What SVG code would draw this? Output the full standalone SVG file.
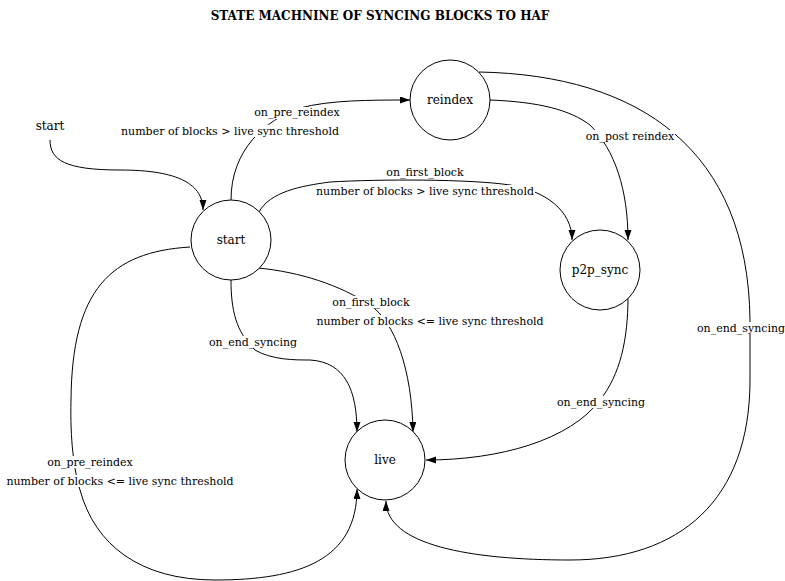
<svg xmlns="http://www.w3.org/2000/svg" width="785" height="581" viewBox="0 0 785 581">
<defs>
<marker id="arr" markerUnits="userSpaceOnUse" markerWidth="10" markerHeight="8" refX="10" refY="3.5" orient="auto"><path d="M0,0 L10,3.5 L0,7 z" fill="#000"/></marker>
<style>
.edge{fill:none;stroke:#000;stroke-width:1;marker-end:url(#arr)}
.node{fill:#fff;stroke:#000;stroke-width:1}
.nl{font-family:"DejaVu Serif",serif;font-size:12px;text-anchor:middle;fill:#000}
.el{font-family:"DejaVu Serif",serif;font-size:11px;text-anchor:middle;fill:#000}
.bg{fill:#fff}
.title{font-family:"DejaVu Serif",serif;font-size:12px;font-weight:bold;text-anchor:middle;fill:#000}
</style>
</defs>
<rect width="785" height="581" fill="#fff"/>
<text class="title" x="380" y="20">STATE MACHNINE OF SYNCING BLOCKS TO HAF</text>
<g id="connectors">
<path class="edge" d="M50,140 C50,160 65,170 120,170 C180,170 203,185 203,210"/>
<path class="edge" d="M231,200 C231,150 265,120 300,108 C330,100 370,100 410,100"/>
<path class="edge" d="M259,212 C270,192 300,186 330,182 C380,179 470,179 510,185 C545,191 572,210 572,240"/>
<path class="edge" d="M258,268 C300,272 340,285 370,305 C395,322 412,370 413,432"/>
<path class="edge" d="M231,280 C231,310 236,332 255,350 C272,360 295,360 310,360 C345,362 357,390 357,432"/>
<path class="edge" d="M190,247 C110,252 72,290 71,400 C70,440 74,470 80,490 C95,545 140,580 215,580 C300,580 357,560 357,489"/>
<path class="edge" d="M490,100 C540,102 570,110 590,125 C615,150 628,190 628,240"/>
<path class="edge" d="M479,72 C640,75 748,150 750,320 L750,380 C750,500 680,560 570,560 C470,560 386,545 386,501"/>
<path class="edge" d="M628,297 C628,340 620,375 600,400 C570,440 500,460 426,460"/>
<g id="labels">
<rect class="bg" x="254" y="107" width="87" height="12"/><text class="el" x="297" y="116">on_pre_reindex</text>
<rect class="bg" x="121" y="125" width="219" height="12"/><text class="el" x="230" y="135">number of blocks &gt; live sync threshold</text>
<rect class="bg" x="386" y="166" width="79" height="12"/><text class="el" x="425" y="176">on_first_block</text>
<rect class="bg" x="316" y="185" width="219" height="12"/><text class="el" x="425" y="195">number of blocks &gt; live sync threshold</text>
<rect class="bg" x="332" y="296" width="79" height="12"/><text class="el" x="371" y="306">on_first_block</text>
<rect class="bg" x="316" y="315" width="229" height="12"/><text class="el" x="430" y="325">number of blocks &lt;= live sync threshold</text>
<rect class="bg" x="209" y="336" width="89" height="12"/><text class="el" x="253" y="346">on_end_syncing</text>
<rect class="bg" x="47" y="456" width="87" height="12"/><text class="el" x="90" y="466">on_pre_reindex</text>
<rect class="bg" x="6" y="475" width="229" height="12"/><text class="el" x="120" y="485">number of blocks &lt;= live sync threshold</text>
<rect class="bg" x="586" y="130" width="89" height="12"/><text class="el" x="630" y="140">on_post reindex</text>
<rect class="bg" x="697" y="322" width="89" height="12"/><text class="el" x="741" y="332">on_end_syncing</text>
<rect class="bg" x="557" y="396" width="89" height="12"/><text class="el" x="601" y="406">on_end_syncing</text>
</g>
</g>
<g id="node-start-text"><text class="nl" x="50" y="130">start</text></g>
<g id="node-start"><circle class="node" cx="231" cy="240" r="40"/><text class="nl" x="231" y="244">start</text></g>
<g id="node-reindex"><circle class="node" cx="450" cy="100" r="40"/><text class="nl" x="450" y="104">reindex</text></g>
<g id="node-p2p_sync"><circle class="node" cx="600" cy="270" r="40"/><text class="nl" x="600" y="274">p2p_sync</text></g>
<g id="node-live"><circle class="node" cx="385" cy="460" r="40"/><text class="nl" x="385" y="464">live</text></g>
</svg>
